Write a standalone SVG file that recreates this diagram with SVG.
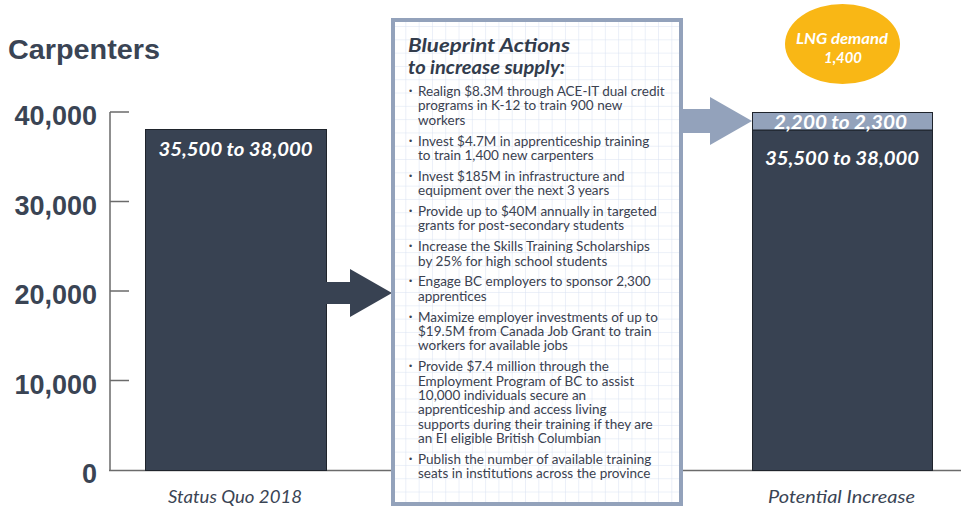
<svg xmlns="http://www.w3.org/2000/svg" width="961" height="507" viewBox="0 0 961 507">
<defs>
<style>
.ax{font-family:"Liberation Sans",Arial,sans-serif;font-weight:bold;font-size:27px;fill:#3a4454;text-anchor:end}
.val{font-family:"Lato","Liberation Sans",sans-serif;font-weight:bold;font-style:italic;font-size:19px;fill:#ffffff;text-anchor:middle}
.lng{font-family:"Lato","Liberation Sans",sans-serif;font-weight:bold;font-style:italic;font-size:15px;fill:#ffffff;text-anchor:middle}
.cat{font-family:"Lato","Liberation Sans",sans-serif;font-style:italic;font-size:18px;fill:#3a4454;text-anchor:middle}
.ttl{font-family:"Lato","Liberation Sans",sans-serif;font-weight:bold;font-style:italic;font-size:19.5px;fill:#323c4c}
.bl{font-family:"Lato","Liberation Sans",sans-serif;font-size:13.5px;fill:#3a4150}
.dot{font-family:"Liberation Sans",sans-serif;font-size:9px;fill:#3a4150}
.bar{fill:#384252;stroke:#1f242c;stroke-width:1}
.tick{stroke:#6b6b6b;stroke-width:1.5;fill:none}
.arrowL{fill:#384252}
.arrowR{fill:#93a2bb}
</style>
<pattern id="grid" patternUnits="userSpaceOnUse" x="393" y="13.7" width="13.3" height="13.3">
<path d="M13.3 0V13.3M0 13.3H13.3" stroke="#d8e1f1" stroke-width="1" fill="none"/>
</pattern>
</defs>
<rect width="961" height="507" fill="#ffffff"/>

<g id="title">
<text x="8" y="59" font-family="Liberation Sans, Arial, sans-serif" font-weight="bold" font-size="27" fill="#3a4454" textLength="152" lengthAdjust="spacingAndGlyphs">Carpenters</text>
</g>

<g id="axis">
<path class="tick" d="M110 112V470.5M110 112H129M110 201.5H129M110 291H129M110 380.5H129M109 470.5H961"/>
<text class="ax" x="97" y="125">40,000</text>
<text class="ax" x="97" y="214.5">30,000</text>
<text class="ax" x="97" y="304">20,000</text>
<text class="ax" x="97" y="393.5">10,000</text>
<text class="ax" x="97" y="483">0</text>
</g>

<g id="bar-status-quo">
<rect class="bar" x="145.5" y="129.5" width="181" height="341"/>
<text class="val" x="235.5" y="156" textLength="154" lengthAdjust="spacingAndGlyphs">35,500 to 38,000</text>
<text class="cat" x="235" y="502.5" textLength="134" lengthAdjust="spacingAndGlyphs">Status Quo 2018</text>
</g>

<g id="connectors">
<path class="arrowL" d="M326 282H350V269L392 293L350 317V304H326Z"/>
<path class="arrowR" d="M681 109H710V97L752 121L710 145V133H681Z"/>
</g>

<g id="panel">
<rect x="393" y="20" width="288" height="484" fill="#ffffff"/>
<rect x="393" y="20" width="288" height="484" fill="url(#grid)"/>
<rect x="393" y="20" width="288" height="484" fill="none" stroke="#93a2bb" stroke-width="4"/>
<text class="ttl" x="408" y="52" textLength="162" lengthAdjust="spacingAndGlyphs">Blueprint Actions</text>
<text class="ttl" x="408" y="74" textLength="157" lengthAdjust="spacingAndGlyphs">to increase supply:</text>
<g id="bullets">
<text class="dot" x="409" y="94">•</text>
<text class="bl" x="418" y="96">Realign $8.3M through ACE-IT dual credit</text>
<text class="bl" x="418" y="110.4">programs in K-12 to train 900 new</text>
<text class="bl" x="418" y="124.8">workers</text>
<text class="dot" x="409" y="143.6">•</text>
<text class="bl" x="418" y="145.6">Invest $4.7M in apprenticeship training</text>
<text class="bl" x="418" y="160">to train 1,400 new carpenters</text>
<text class="dot" x="409" y="178.8">•</text>
<text class="bl" x="418" y="180.8">Invest $185M in infrastructure and</text>
<text class="bl" x="418" y="195.2">equipment over the next 3 years</text>
<text class="dot" x="409" y="214">•</text>
<text class="bl" x="418" y="216">Provide up to $40M annually in targeted</text>
<text class="bl" x="418" y="230.4">grants for post-secondary students</text>
<text class="dot" x="409" y="249.2">•</text>
<text class="bl" x="418" y="251.2">Increase the Skills Training Scholarships</text>
<text class="bl" x="418" y="265.6">by 25% for high school students</text>
<text class="dot" x="409" y="284.4">•</text>
<text class="bl" x="418" y="286.4">Engage BC employers to sponsor 2,300</text>
<text class="bl" x="418" y="300.8">apprentices</text>
<text class="dot" x="409" y="319.6">•</text>
<text class="bl" x="418" y="321.6">Maximize employer investments of up to</text>
<text class="bl" x="418" y="336">$19.5M from Canada Job Grant to train</text>
<text class="bl" x="418" y="350.4">workers for available jobs</text>
<text class="dot" x="409" y="369.2">•</text>
<text class="bl" x="418" y="371.2">Provide $7.4 million through the</text>
<text class="bl" x="418" y="385.6">Employment Program of BC to assist</text>
<text class="bl" x="418" y="400">10,000 individuals secure an</text>
<text class="bl" x="418" y="414.4">apprenticeship and access living</text>
<text class="bl" x="418" y="428.8">supports during their training if they are</text>
<text class="bl" x="418" y="443.2">an EI eligible British Columbian</text>
<text class="dot" x="409" y="462">•</text>
<text class="bl" x="418" y="464">Publish the number of available training</text>
<text class="bl" x="418" y="478.4">seats in institutions across the province</text>
</g>
</g>

<g id="bar-potential">
<rect class="bar" x="752.5" y="130" width="180" height="340.5"/>
<rect x="752.5" y="112.5" width="180" height="17.5" fill="#93a2bb" stroke="#1f242c" stroke-width="1"/>
<text class="val" x="840.5" y="128.5" textLength="133" lengthAdjust="spacingAndGlyphs">2,200 to 2,300</text>
<text class="val" x="842" y="165" textLength="154" lengthAdjust="spacingAndGlyphs">35,500 to 38,000</text>
<text class="cat" x="841.5" y="502.5" textLength="147" lengthAdjust="spacingAndGlyphs">Potential Increase</text>
</g>

<g id="lng-demand">
<ellipse cx="842.5" cy="44" rx="57.5" ry="40" fill="#f9b715"/>
<text class="lng" x="842" y="44" textLength="92" lengthAdjust="spacingAndGlyphs">LNG demand</text>
<text class="lng" x="843" y="62.5" textLength="38" lengthAdjust="spacingAndGlyphs">1,400</text>
</g>
</svg>
